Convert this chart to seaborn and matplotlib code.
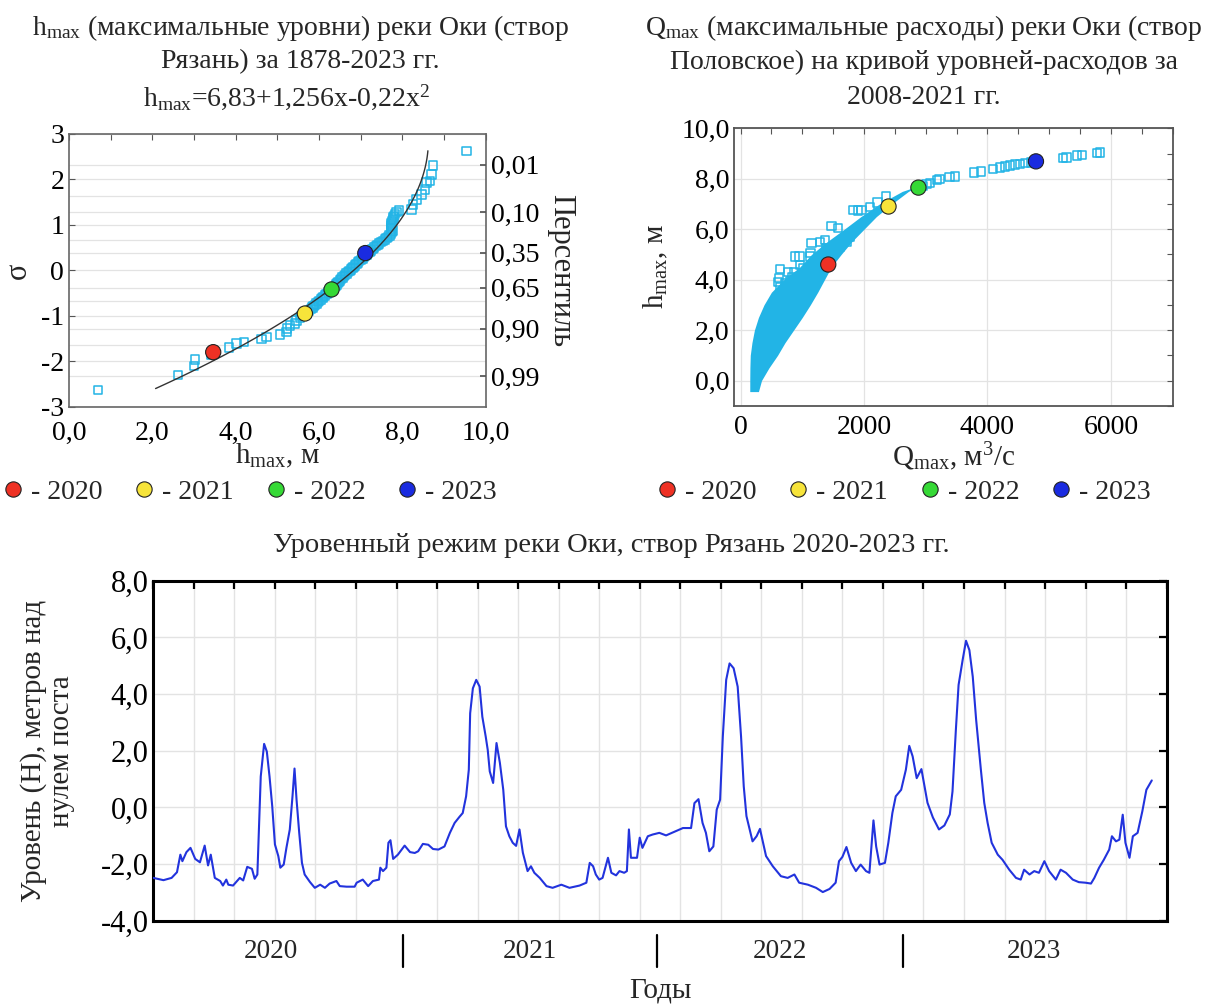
import numpy as np
import pandas as pd
import matplotlib
matplotlib.use("Agg")
import matplotlib.pyplot as plt
import matplotlib.ticker as ticker
from matplotlib.lines import Line2D
import seaborn as sns

# --- левый график: hmax на вероятностной шкале (створ Рязань) ---
hmax_obs = [0.69, 2.61, 3.00, 3.02, 3.42, 3.84, 4.02, 4.20, 4.62, 4.74, 5.06, 5.22, 5.23, 5.30,
            5.42, 5.46, 5.54,
            5.58, 5.62, 5.66, 5.70, 5.76, 5.80, 5.84, 5.87, 5.90, 5.94, 5.97, 6.00, 6.04, 6.08,
            6.10, 6.14, 6.18, 6.22, 6.26, 6.30, 6.34, 6.36, 6.40, 6.42, 6.44, 6.47, 6.50, 6.53,
            6.56, 6.60, 6.63, 6.66, 6.70, 6.73, 6.76, 6.80, 6.83, 6.86, 6.90, 6.93, 6.96, 7.00,
            7.04, 7.07, 7.10, 7.14, 7.18, 7.21, 7.24, 7.28, 7.32, 7.36, 7.40, 7.44, 7.48, 7.53,
            7.58, 7.62, 7.66, 7.69, 7.72, 7.75, 7.76, 7.74, 7.72, 7.72, 7.74, 7.75, 7.77, 7.79,
            7.80, 7.83, 7.86, 7.92,
            8.22, 8.26, 8.34, 8.46, 8.54, 8.58, 8.66, 8.70, 8.74, 9.54]
sigma_obs = [-2.63, -2.30, -2.10, -1.96, -1.86, -1.70, -1.61, -1.57, -1.51, -1.46, -1.41, -1.36, -1.28, -1.21,
             -1.17, -1.10, -1.05,
             -1.00, -0.97, -0.94, -0.91, -0.88, -0.85, -0.82, -0.79, -0.76, -0.73, -0.70, -0.67, -0.64, -0.61,
             -0.58, -0.55, -0.52, -0.49, -0.46, -0.43, -0.40, -0.37, -0.34, -0.31, -0.28, -0.25, -0.22, -0.19,
             -0.16, -0.13, -0.10, -0.07, -0.04, -0.01, 0.02, 0.05, 0.08, 0.11, 0.14, 0.17, 0.20, 0.23,
             0.26, 0.29, 0.32, 0.35, 0.38, 0.41, 0.44, 0.47, 0.50, 0.53, 0.56, 0.59, 0.62, 0.65,
             0.68, 0.71, 0.74, 0.77, 0.80, 0.84, 0.88, 0.92, 0.96, 1.00, 1.04, 1.08, 1.12, 1.16,
             1.20, 1.24, 1.28, 1.32,
             1.34, 1.45, 1.56, 1.67, 1.78, 1.93, 1.97, 2.11, 2.31, 2.63]
fit_coef = [6.83, 1.256, -0.22]
fit_sigma_range = [-2.6, 2.63]
pct_labels = ["0,01", "0,10", "0,35", "0,65", "0,90", "0,99"]
pct_sigma = [2.326, 1.282, 0.385, -0.385, -1.282, -2.326]
pct_sigma_minor = [1.645, 0.674, -0.674, -1.645]

years = ["2020", "2021", "2022", "2023"]
year_colors = ["#EE3124", "#F7E43A", "#36D936", "#1A2BE0"]
hmax_years = [3.46, 5.66, 6.30, 7.11]
sigma_years = [-1.80, -0.95, -0.42, 0.38]

# --- правый график: кривая Q(h), створ Половское ---
band_h = [-0.44, 0.0, 0.5, 1.0, 1.5, 2.0, 2.5, 3.0, 3.5, 4.0, 4.5, 5.0, 5.5, 6.0, 6.5, 7.0, 7.5, 7.7]
band_q_left = [150, 150, 152, 158, 185, 225, 290, 380, 500, 700, 960, 1150, 1400, 1680, 1950, 2250, 2620, 2860]
band_q_right = [290, 340, 460, 600, 720, 860, 1000, 1130, 1250, 1360, 1470, 1630, 1800, 2000, 2200, 2450, 2720, 2880]
q_obs = [610, 626, 637, 650, 720, 772, 800, 840, 865, 880, 955, 962, 1017, 1124, 1135, 1151, 1286, 1367,
         1395, 1476, 1583, 1611, 1719, 1773, 1826, 1907, 1961, 2097, 2216, 2357,
         2950, 3010, 3071, 3179, 3222, 3384, 3476, 3784, 3898, 4086, 4207, 4288, 4369, 4450, 4531, 4612,
         4704, 5223, 5277, 5450, 5531, 5774, 5818]
h_obs = [3.90, 4.06, 4.42, 3.70, 3.85, 4.30, 3.95, 4.10, 4.30, 4.92, 4.92, 4.59, 4.46, 4.92, 5.05, 5.45,
         5.50, 5.57, 5.25, 6.14, 6.05, 5.31, 5.50, 5.70, 6.77, 6.74, 6.77, 6.88, 7.06, 7.30,
         7.72, 7.78, 7.83, 7.94, 8.00, 8.06, 8.09, 8.25, 8.29, 8.40, 8.45, 8.49, 8.52, 8.56, 8.58, 8.62,
         8.65, 8.82, 8.85, 8.92, 8.93, 9.02, 9.04]
q_years = [1421, 2397, 2881, 4785]
h_years = [4.60, 6.90, 7.65, 8.69]

# --- нижний график: уровень воды, Рязань (сутки от начала ряда) ---
days = [0, 15, 27, 35, 40, 43, 49, 55, 62, 69, 76, 81, 85, 91, 99, 103, 108, 111, 118, 128,
        133, 139, 146, 150, 154, 159, 164, 168, 172, 176, 180, 185, 188, 193, 197, 202, 206, 209,
        212, 216, 220, 224, 232, 239, 247, 254, 261, 271, 276, 286, 298, 301, 310, 318, 325, 334,
        336, 340, 345, 348, 351, 355, 362, 372, 380, 387,
        392, 399, 407, 414, 422, 431, 439, 446, 453, 458, 463, 467, 469, 473, 478, 483, 487, 492,
        495, 498, 503, 508, 513, 518, 522, 527, 532, 537, 542, 547, 554, 559, 564, 572, 582, 591,
        604, 616, 631, 641, 646, 651, 655, 660, 665, 673, 678, 685, 690, 697, 701, 704, 707, 716,
        720, 724, 732, 739, 749, 759,
        784, 796, 801, 807, 813, 818, 823, 829, 834, 839, 843, 848, 853, 859, 865, 870, 874, 878,
        887, 893, 898, 907, 917, 929, 939, 949, 956, 969, 981, 991, 1001, 1010, 1015, 1020, 1026,
        1033, 1040, 1047, 1055, 1060, 1066, 1070, 1075, 1083, 1088, 1094, 1099, 1107, 1114, 1119,
        1124, 1130, 1137,
        1146, 1154, 1163, 1171, 1179, 1183, 1188, 1192, 1198, 1203, 1208, 1213, 1218, 1225, 1230,
        1235, 1241, 1250, 1257, 1267, 1277, 1284, 1289, 1297, 1304, 1311, 1319, 1326, 1336, 1343,
        1351, 1361, 1370, 1380, 1388, 1393, 1400, 1407, 1415, 1419, 1425, 1430, 1435, 1439, 1445,
        1450, 1457, 1464, 1470, 1478]
level = [-2.49, -2.57, -2.49, -2.29, -1.67, -1.90, -1.58, -1.43, -1.82, -1.94, -1.35, -2.05, -1.67, -2.49,
         -2.60, -2.76, -2.55, -2.73, -2.76, -2.49, -2.58, -2.10, -2.17, -2.52, -2.37, 1.09, 2.24, 1.97,
         1.09, 0.04, -1.31, -1.72, -2.13, -2.02, -1.43, -0.78, 0.39, 1.37, 0.27, -0.91, -1.96, -2.37,
         -2.64, -2.84, -2.73, -2.84, -2.69, -2.60, -2.78, -2.80, -2.80, -2.66, -2.55, -2.78, -2.60, -2.55,
         -2.13, -2.25, -2.13, -1.25, -1.16, -1.82, -1.67, -1.35, -1.58, -1.61,
         -1.55, -1.29, -1.32, -1.47, -1.49, -1.38, -0.90, -0.55, -0.34, -0.20, 0.39, 1.33, 3.32, 4.20,
         4.50, 4.26, 3.20, 2.50, 2.03, 1.27, 0.86, 2.27, 1.57, 0.62, -0.67, -1.02, -1.25, -1.36, -0.78,
         -1.60, -2.25, -2.08, -2.31, -2.49, -2.78, -2.84, -2.73, -2.84, -2.76, -2.66, -1.96, -2.08,
         -2.37, -2.55, -2.49, -1.78, -2.31, -2.40, -2.25, -2.31, -2.25, -0.78, -1.78, -1.78, -1.07,
         -1.43, -1.02, -0.96, -0.90, -0.99,
         -0.73, -0.73, 0.15, 0.29, -0.55, -0.90, -1.55, -1.38, -0.08, 0.27, 2.50, 4.50, 5.08, 4.91,
         4.26, 2.50, 0.74, -0.31, -1.20, -1.02, -0.76, -1.72, -2.08, -2.43, -2.49, -2.37, -2.66, -2.73,
         -2.84, -2.99, -2.88, -2.66, -1.90, -1.75, -1.40, -1.96, -2.25, -2.02, -2.25, -2.31, -0.46,
         -1.38, -2.02, -1.96, -1.25, -0.20, 0.39, 0.62, 1.33, 2.17, 1.80, 1.03, 1.35,
         0.16, -0.36, -0.78, -0.64, -0.25, 0.56, 2.74, 4.32, 5.20, 5.88, 5.55, 4.61, 3.09, 1.33, 0.16,
         -0.55, -1.25, -1.67, -1.85, -2.20, -2.49, -2.55, -2.20, -2.37, -2.25, -2.31, -1.90, -2.25,
         -2.55, -2.20, -2.31, -2.55, -2.64, -2.66, -2.69, -2.49, -2.13, -1.85, -1.49, -1.02, -1.20,
         -1.14, -0.26, -1.25, -1.78, -1.02, -0.90, -0.14, 0.62, 0.95]
year_sep_days = [370, 745, 1109]
year_label_days = [174, 557, 927, 1304]

sns.set_theme(style="white")
plt.rcParams["font.family"] = ["Liberation Serif", "DejaVu Serif"]
plt.rcParams["mathtext.fontset"] = "custom"
plt.rcParams["mathtext.rm"] = "Liberation Serif"
plt.rcParams["mathtext.it"] = "Liberation Serif:italic"
plt.rcParams["axes.unicode_minus"] = False

cyan = "#22B4E6"
grid_c = "#e3e3e3"
comma1 = ticker.FuncFormatter(lambda v, p: f"{v:.1f}".replace(".", ","))

fig = plt.figure(figsize=(12.15, 10.05), dpi=100)
ax1 = fig.add_axes([0.0568, 0.5953, 0.343, 0.2714])
ax2 = fig.add_axes([0.6044, 0.5963, 0.3608, 0.276])
ax3 = fig.add_axes([0.1262, 0.0839, 0.834, 0.3383])

# ---------- левый ----------
s_fit = np.linspace(fit_sigma_range[0], fit_sigma_range[1], 120)
h_fit = fit_coef[0] + fit_coef[1] * s_fit + fit_coef[2] * s_fit ** 2
sns.scatterplot(x=hmax_obs, y=sigma_obs, marker="s", s=36, facecolor="none", edgecolor=cyan,
                linewidth=1.1, ax=ax1, zorder=3)
sns.lineplot(x=h_fit, y=s_fit, sort=False, estimator=None, color="#333333", lw=1.0, ax=ax1, zorder=4)
sns.scatterplot(x=hmax_years, y=sigma_years, hue=years, palette=year_colors, s=120,
                edgecolor="#222222", linewidth=0.8, legend=False, ax=ax1, zorder=5)
ax1.set_xlim(0, 10)
ax1.set_ylim(-3, 3)
ax1.set_xticks(np.arange(0, 10.1, 2))
ax1.xaxis.set_major_formatter(comma1)
ax1.xaxis.set_minor_locator(ticker.MultipleLocator(1))
ax1.set_yticks(range(-3, 4))
ax1.set_yticks(pct_sigma + pct_sigma_minor, minor=True)
ax1.grid(axis="y", which="both", color=grid_c, lw=0.9)
ax1.set_axisbelow(True)
ax1.tick_params(axis="both", which="both", direction="in", top=True, length=4, width=0.8,
                colors="#555555", labelcolor="black", labelsize=20)
ax1.tick_params(axis="x", pad=10)
ax1.tick_params(axis="y", which="minor", length=0)
ax1.set_xlabel(r"h$_{\mathrm{max}}$, м", fontsize=21, labelpad=-3)
ax1.set_ylabel("σ", fontsize=22, labelpad=6)
for sp in ax1.spines.values():
    sp.set_color("#666666")
    sp.set_linewidth(1.2)

ax1b = ax1.twinx()
ax1b.set_ylim(-3, 3)
ax1b.set_yticks(pct_sigma)
ax1b.set_yticklabels(pct_labels)
ax1b.tick_params(axis="y", direction="in", length=4, colors="#555555", labelcolor="black", labelsize=20)
ax1b.set_ylabel("Персентиль", fontsize=22, rotation=270, labelpad=26)
for sp in ax1b.spines.values():
    sp.set_visible(False)

# ---------- правый ----------
ax2.fill_betweenx(band_h, band_q_left, band_q_right, color=cyan, lw=0, zorder=2)
sns.scatterplot(x=q_obs, y=h_obs, marker="s", s=36, facecolor="none", edgecolor=cyan,
                linewidth=1.1, ax=ax2, zorder=3)
sns.scatterplot(x=q_years, y=h_years, hue=years, palette=year_colors, s=120,
                edgecolor="#222222", linewidth=0.8, legend=False, ax=ax2, zorder=5)
ax2.set_xlim(-100, 7000)
ax2.set_ylim(-1, 10)
ax2.set_xticks([0, 2000, 4000, 6000])
ax2.xaxis.set_minor_locator(ticker.MultipleLocator(500))
ax2.set_yticks(np.arange(0, 10.1, 2))
ax2.yaxis.set_major_formatter(comma1)
ax2.yaxis.set_minor_locator(ticker.MultipleLocator(1))
ax2.grid(which="major", color=grid_c, lw=0.9)
ax2.set_axisbelow(True)
ax2.tick_params(axis="both", which="both", direction="in", top=True, right=True, length=4, width=0.8,
                colors="#555555", labelcolor="black", labelsize=20)
ax2.tick_params(axis="x", pad=7)
ax2.set_xlabel(r"Q$_{\mathrm{max}}$, м$^{3}$/с", fontsize=21, labelpad=0)
ax2.set_ylabel(r"h$_{\mathrm{max}}$, м", fontsize=21, labelpad=8)
for sp in ax2.spines.values():
    sp.set_color("#555555")
    sp.set_linewidth(1.3)

# легенды под верхними графиками
handles = [Line2D([], [], ls="none", marker="o", markersize=11, markerfacecolor=c,
                  markeredgecolor="#222222", markeredgewidth=0.8) for c in year_colors]
labels = ["- " + y for y in years]
for cx in (250 / 1215, 904 / 1215):
    fig.legend(handles, labels, loc="center", bbox_to_anchor=(cx, 1 - 492 / 1005), ncol=4,
               frameon=False, fontsize=20, handlelength=0.7, handletextpad=0.3,
               columnspacing=1.15, borderaxespad=0, borderpad=0)

# заголовки
fig.text(300 / 1215, 1 - 28 / 1005, r"h$_{\mathrm{max}}$ (максимальные уровни) реки Оки (створ",
         ha="center", va="center", fontsize=20)
fig.text(300 / 1215, 1 - 62 / 1005, "Рязань) за 1878-2023 гг.", ha="center", va="center", fontsize=20)
fig.text(287 / 1215, 1 - 97 / 1005, r"h$_{\mathrm{max}}$=6,83+1,256x-0,22x$^{2}$",
         ha="center", va="center", fontsize=20)
fig.text(924 / 1215, 1 - 28 / 1005, r"Q$_{\mathrm{max}}$ (максимальные расходы) реки Оки (створ",
         ha="center", va="center", fontsize=20)
fig.text(924 / 1215, 1 - 62 / 1005, "Половское) на кривой уровней-расходов за",
         ha="center", va="center", fontsize=20)
fig.text(924 / 1215, 1 - 97 / 1005, "2008-2021 гг.", ha="center", va="center", fontsize=20)
fig.text(611 / 1215, 1 - 545 / 1005, "Уровенный режим реки Оки, створ Рязань 2020-2023 гг.",
         ha="center", va="center", fontsize=20.5)

# ---------- нижний ----------
sns.lineplot(x=days, y=level, sort=False, estimator=None, color="#2233DD", lw=1.5, ax=ax3, zorder=3)
ax3.set_xlim(0, 1500)
ax3.set_ylim(-4, 8)
ax3.set_xticks(np.arange(0, 1501, 60))
ax3.set_yticks(np.arange(-4, 8.1, 2))
ax3.yaxis.set_major_formatter(comma1)
ax3.grid(color=grid_c, lw=1.0)
ax3.set_axisbelow(True)
ax3.tick_params(axis="both", direction="in", top=True, right=True, length=6, width=1.6,
                colors="black", labelsize=22, labelbottom=False)
for sp in ax3.spines.values():
    sp.set_color("black")
    sp.set_linewidth(2.2)
xt = ax3.get_xaxis_transform()
for d, y in zip(year_label_days, years):
    ax3.text(d, -0.091, y, transform=xt, ha="center", va="center", fontsize=19.5)
for d in year_sep_days:
    ax3.plot([d, d], [-0.042, -0.135], transform=xt, clip_on=False, color="black", lw=1.6)
ax3.set_xlabel("Годы", fontsize=21, labelpad=41)
ax3.set_ylabel("Уровень (Н), метров над\nнулем поста", fontsize=21, labelpad=18, linespacing=1.1)

fig.savefig("out.png", dpi=100)
